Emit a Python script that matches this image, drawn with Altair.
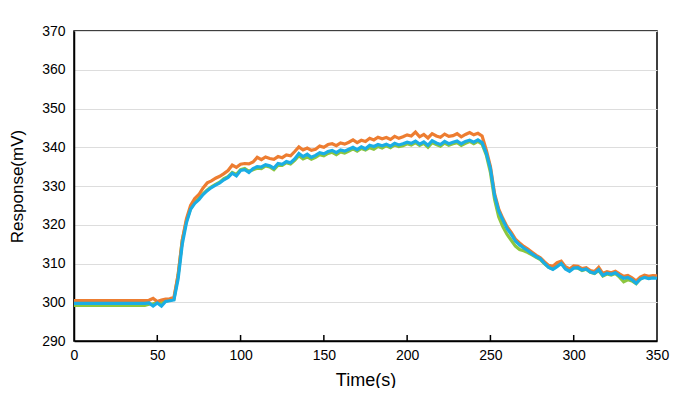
import altair as alt
import pandas as pd

# time axis (s), 2.5 s sampling
time_s = [i * 2.5 for i in range(141)]

blue = [299.7] * 18 + [
    299.8, 299.0, 299.8, 299.0, 300.2, 300.4, 300.6, 306.0, 315.0, 320.5,
    324.0, 325.5, 326.5, 327.8, 328.8, 329.6, 330.2, 330.8, 331.6, 332.2,
    333.3, 332.6, 334.0, 334.2, 333.5, 334.5, 335.0, 334.9, 335.5, 335.2,
    334.6, 335.8, 335.6, 336.3, 336.0, 337.0, 338.4, 337.6, 338.2, 337.4,
    337.9, 338.6, 338.3, 338.9, 339.2, 338.6, 339.3, 339.0, 339.5, 340.0,
    339.4, 340.1, 339.6, 340.5, 340.2, 340.7, 340.4, 340.8, 340.3, 341.0,
    340.6, 340.9, 341.3, 341.0, 341.6, 340.8, 341.4, 340.5, 341.7, 341.1,
    340.7, 341.5, 340.9, 341.3, 341.6, 340.9, 341.5, 341.8, 341.3, 341.9,
    341.2, 338.5, 334.5, 327.5, 323.5, 321.2, 319.0, 317.5, 315.8, 314.8,
    314.0, 313.3, 312.5, 311.8, 311.2, 310.0, 309.0, 308.5, 309.2, 310.0,
    308.6, 308.0, 308.8, 308.9, 308.3, 308.6, 307.8, 307.5, 308.4, 306.9,
    307.5, 307.2, 307.6, 306.8, 306.2, 306.4, 305.8, 304.9, 306.0, 306.4,
    306.1, 306.3, 306.2]

orange = [300.4] * 18 + [
    300.5, 301.0, 300.2, 300.6, 300.8, 300.9, 301.3, 307.0, 316.0, 321.5,
    325.0, 326.8, 327.8, 329.5, 330.8, 331.3, 332.0, 332.5, 333.2, 334.0,
    335.4, 334.8, 335.6, 335.8, 335.7, 336.2, 337.4, 336.8, 337.5, 337.1,
    336.9, 337.6, 337.3, 338.0, 337.8, 338.9, 340.1, 339.3, 339.8, 339.2,
    339.5, 340.3, 340.0, 340.7, 340.9, 340.4, 341.1, 340.8, 341.3, 341.9,
    341.2, 341.8, 341.5, 342.3, 341.9, 342.6, 342.2, 342.5, 342.0, 342.8,
    342.3, 342.7, 343.2, 342.9, 343.9, 342.7, 343.3, 342.4, 343.5, 342.9,
    342.6, 343.4, 342.8, 343.0, 343.5, 342.7, 343.3, 343.8, 343.2, 343.6,
    342.9, 339.3, 335.0, 328.0, 324.0, 321.6, 319.5, 318.0, 316.3, 315.3,
    314.4, 313.7, 312.9, 312.1, 311.5, 310.4, 309.5, 309.3, 310.2, 310.6,
    309.2, 308.6, 309.4, 309.3, 308.7, 308.9, 308.2, 307.9, 309.0, 307.4,
    307.9, 307.6, 308.0, 307.3, 306.7, 306.9, 306.3, 305.5, 306.5, 307.0,
    306.7, 306.9, 306.8]

green = [299.2] * 18 + [
    299.5, 299.6, 299.9, 299.8, 300.3, 300.5, 300.8, 307.0, 316.0, 321.0,
    324.2, 325.8, 326.8, 328.0, 329.0, 329.8, 330.4, 331.0, 331.9, 332.4,
    333.5, 333.0, 334.2, 334.5, 333.8, 334.2, 334.6, 334.5, 335.2, 334.9,
    334.2, 335.4, 335.3, 336.0, 335.7, 336.6, 337.8, 337.0, 337.5, 336.9,
    337.4, 338.1, 337.8, 338.4, 338.7, 338.1, 338.8, 338.5, 339.0, 339.6,
    339.0, 339.7, 339.3, 339.9, 339.5, 340.2, 339.8, 340.4, 339.9, 340.6,
    340.2, 340.4, 340.9, 340.6, 341.2, 340.5, 341.0, 340.0, 341.2, 340.7,
    340.3, 341.1, 340.5, 340.9, 341.2, 340.5, 341.0, 341.5, 340.9, 341.5,
    340.8, 338.0, 333.5, 326.5, 322.0, 319.5, 317.5, 316.0, 314.5, 313.6,
    313.3, 312.8, 312.2, 311.6, 311.0, 309.9, 309.0, 308.6, 309.5, 310.2,
    308.8, 308.2, 309.0, 308.8, 308.2, 308.5, 307.7, 307.4, 308.2, 306.8,
    307.3, 307.0, 307.4, 306.5, 305.3, 305.8, 305.5, 304.8, 306.0, 306.6,
    306.3, 306.6, 306.5]

x_ticks = [0, 50, 100, 150, 200, 250, 300, 350]
y_ticks = [290, 300, 310, 320, 330, 340, 350, 360, 370]

df = pd.DataFrame({"t": time_s, "blue": blue, "orange": orange, "green": green})

FONT = "Liberation Sans"

x_scale = alt.Scale(domain=[0, 350], nice=False)
x_enc = alt.X("t:Q", scale=x_scale,
              axis=alt.Axis(values=x_ticks, title="Time(s)", grid=False,
                            ticks=False, tickSize=0, labelPadding=7,
                            labelFlush=False, titlePadding=9, titleFontSize=18,
                            format="d"))
y_scale = alt.Scale(domain=[290, 370], nice=False)


def line(col, color):
    return alt.Chart(df).mark_line(color=color, strokeWidth=3.2).encode(
        x=x_enc,
        y=alt.Y(f"{col}:Q", scale=y_scale,
                axis=alt.Axis(values=y_ticks, title="Response(mV)",
                              ticks=False, tickSize=0, labelPadding=9,
                              titlePadding=15, titleFontSize=17, grid=True,
                              format="d")),
    )


tick_df = pd.DataFrame({"t": x_ticks[1:-1]})
tick_marks = alt.Chart(tick_df).mark_rule(color="black", strokeWidth=1.5).encode(
    x=alt.X("t:Q", scale=x_scale),
    y=alt.value(310),
    y2=alt.value(304),
)

chart = alt.layer(
    line("green", "#8CC63F"),
    line("orange", "#ED7D31"),
    line("blue", "#1AADE4"),
    tick_marks,
).properties(
    width=583,
    height=310,
    autosize=alt.AutoSizeParams(type="none"),
    padding={"left": 66, "top": 23, "right": 26, "bottom": 47},
).configure_view(
    stroke="black", strokeWidth=1.5
).configure_axis(
    labelFont=FONT, titleFont=FONT, labelFontSize=14,
    labelColor="black", titleColor="black", titleFontWeight="normal",
    domainColor="black", domainWidth=1.5, gridColor="#DDDDDD", gridWidth=1,
)

chart.save("out.html", embed_options={"renderer": "svg", "actions": False})
